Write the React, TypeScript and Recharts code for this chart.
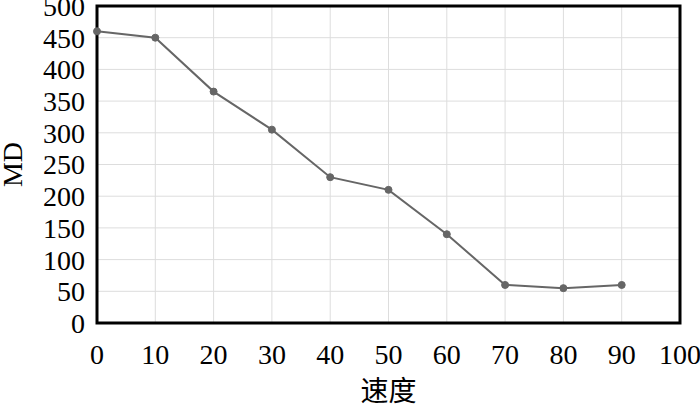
import React from 'react'
import { LineChart, XAxis, YAxis, Line, CartesianGrid, ReferenceArea } from 'recharts'

const speeds = [0, 10, 20, 30, 40, 50, 60, 70, 80, 90]
const mdValues = [460, 450, 365, 305, 230, 210, 140, 60, 55, 60]
const xTicks = [0, 10, 20, 30, 40, 50, 60, 70, 80, 90, 100]
const yTicks = [0, 50, 100, 150, 200, 250, 300, 350, 400, 450, 500]

const data = speeds.map((s, i) => ({ speed: s, md: mdValues[i] }))

const font = '"Liberation Serif", "Noto Sans CJK SC", serif'

function App() {
    return (
        <div style={{ position: 'absolute', left: 0, top: 0 }}>
            <LineChart
                width={700}
                height={408}
                data={data}
                margin={{ top: 6, right: 20, left: 0, bottom: 0 }}
                style={{ fontFamily: font }}
            >
                <CartesianGrid stroke="#dddddd" strokeWidth={1} />
                <XAxis
                    dataKey="speed"
                    type="number"
                    domain={[0, 100]}
                    ticks={xTicks}
                    interval={0}
                    height={85}
                    tickLine={false}
                    axisLine={false}
                    tickMargin={15}
                    tick={{ fill: '#000', fontSize: 28, fontFamily: font }}
                    label={{ value: '速度', position: 'insideBottom', offset: 7, fill: '#000', fontSize: 28, fontFamily: font }}
                />
                <YAxis
                    type="number"
                    domain={[0, 500]}
                    ticks={yTicks}
                    interval={0}
                    width={97}
                    tickLine={false}
                    axisLine={false}
                    tickMargin={6}
                    tick={{ fill: '#000', fontSize: 28, fontFamily: font }}
                    label={{
                        value: 'MD',
                        angle: -90,
                        position: 'insideLeft',
                        offset: 12,
                        fill: '#000',
                        fontSize: 28,
                        fontFamily: font,
                        style: { textAnchor: 'middle' },
                    }}
                />
                <ReferenceArea x1={0} x2={100} y1={0} y2={500} fill="none" stroke="#000" strokeWidth={3} fillOpacity={0} />
                <Line
                    type="linear"
                    dataKey="md"
                    stroke="#666666"
                    strokeWidth={2}
                    dot={{ r: 3.5, fill: '#666666', stroke: '#666666', strokeWidth: 1 }}
                    isAnimationActive={false}
                />
            </LineChart>
        </div>
    )
}

export default App
